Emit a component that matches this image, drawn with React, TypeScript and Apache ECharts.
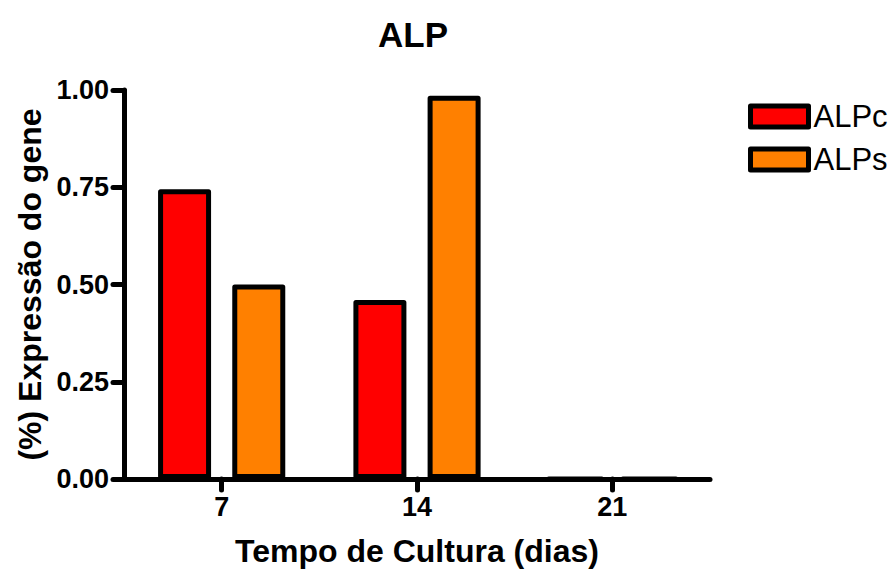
import React, { useEffect, useRef } from "react";
import * as echarts from "echarts";

const categories = ["7", "14", "21"];
const alpcValues = [0.745, 0.46, 0];
const alpsValues = [0.5, 0.985, 0];
const seriesNames = ["ALPc", "ALPs"];
const titleText = "ALP";
const xAxisName = "Tempo de Cultura (dias)";
const yAxisName = "(%) Expressão do gene";

const FONT = "'Liberation Sans', Arial, Helvetica, sans-serif";

export default function App() {
  const ref = useRef<HTMLDivElement>(null);
  useEffect(() => {
    document.body.style.margin = "0";
    if (!ref.current) return;
    const chart = echarts.init(ref.current, undefined, { renderer: "svg" });
    const axisLine = { show: true, lineStyle: { color: "#000", width: 5, cap: "round" } };
    chart.setOption({
      animation: false,
      backgroundColor: "#fff",
      title: {
        text: titleText,
        left: 408,
        top: 12,
        textAlign: "center",
        textStyle: { fontFamily: FONT, fontSize: 35, fontWeight: "bold", color: "#000" },
      },
      legend: {
        orient: "vertical",
        left: 743,
        top: 96,
        itemWidth: 58,
        itemHeight: 21,
        itemGap: 12,
        icon: "rect",
        itemStyle: { borderColor: "#000", borderWidth: 5, borderJoin: "round" },
        textStyle: { fontFamily: FONT, fontSize: 31, color: "#000" },
        data: seriesNames,
      },
      grid: {
        left: 124,
        right: 184,
        top: 90,
        bottom: 94,
        containLabel: false,
        outerBoundsMode: "none",
      },
      xAxis: {
        type: "category",
        data: categories,
        name: xAxisName,
        nameLocation: "middle",
        nameGap: 56,
        nameTextStyle: { fontFamily: FONT, fontSize: 32, fontWeight: "bold", color: "#000" },
        axisLine,
        axisTick: { show: true, alignWithLabel: true, length: 11, lineStyle: { color: "#000", width: 5, cap: "round" } },
        axisLabel: { margin: 14, fontFamily: FONT, fontSize: 27, fontWeight: "bold", color: "#000" },
        splitLine: { show: false },
      },
      yAxis: {
        type: "value",
        min: 0,
        max: 1,
        interval: 0.25,
        name: yAxisName,
        nameLocation: "middle",
        nameGap: 78,
        nameTextStyle: { fontFamily: FONT, fontSize: 32, fontWeight: "bold", color: "#000" },
        axisLine,
        axisTick: { show: true, length: 11, lineStyle: { color: "#000", width: 5, cap: "round" } },
        axisLabel: {
          margin: 15,
          fontFamily: FONT,
          fontSize: 27,
          fontWeight: "bold",
          color: "#000",
          formatter: (v: number) => v.toFixed(2),
        },
        splitLine: { show: false },
      },
      series: [
        {
          name: seriesNames[0],
          type: "bar",
          data: alpcValues,
          barWidth: 53,
          barGap: "40%",
          itemStyle: { color: "#FF0000", borderColor: "#000", borderWidth: 5, borderJoin: "round" },
        },
        {
          name: seriesNames[1],
          type: "bar",
          data: alpsValues,
          barWidth: 53,
          barGap: "40%",
          itemStyle: { color: "#FF8000", borderColor: "#000", borderWidth: 5, borderJoin: "round" },
        },
      ],
    });
    return () => chart.dispose();
  }, []);
  return <div ref={ref} style={{ width: 894, height: 573 }} />;
}
